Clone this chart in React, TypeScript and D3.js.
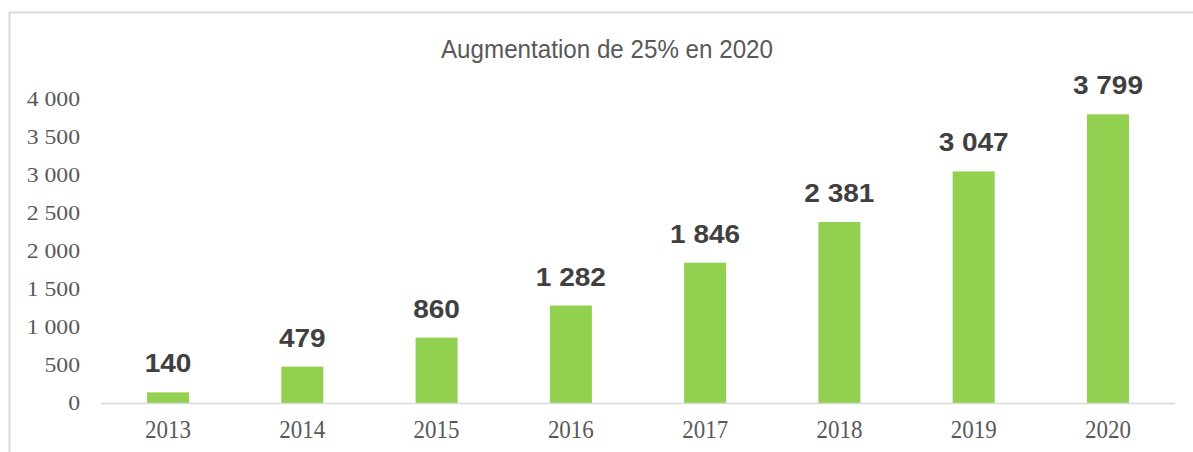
import * as React from 'react'
import * as d3 from 'd3'

const years = ['2013', '2014', '2015', '2016', '2017', '2018', '2019', '2020']
const counts = [140, 479, 860, 1282, 1846, 2381, 3047, 3799]
const yTicks = [0, 500, 1000, 1500, 2000, 2500, 3000, 3500, 4000]
const title = 'Augmentation de 25% en 2020'

const W = 1193
const H = 452

// French style thousands: "1 846"
const fmt = (v: number) => d3.format(',')(v).replace(/,/g, ' ')

export default function App() {
  const x = d3.scaleBand<string>().domain(years).range([101, 1175]).paddingInner(0.687).paddingOuter(0.343)
  const y = d3.scaleLinear().domain([0, 4000]).range([403, 99])
  const cx = (yr: string) => (x(yr) ?? 0) + x.bandwidth() / 2

  return (
    <div style={{ position: 'fixed', left: 0, top: 0 }}>
      <svg width={W} height={H} style={{ display: 'block', background: '#fff' }}>
        <rect x={9.5} y={12.5} width={W + 20} height={H + 20} fill="none" stroke="#d9d9d9" strokeWidth={2} />

        <text
          x={607}
          y={58}
          textAnchor="middle"
          fill="#595959"
          fontFamily="'Liberation Sans', Arial, sans-serif"
          fontSize={25}
          textLength={332}
          lengthAdjust="spacingAndGlyphs"
        >
          {title}
        </text>

        {yTicks.map((t) => (
          <text
            key={t}
            transform={`translate(80,${y(t)}) scale(1.13,1)`}
            dy="0.35em"
            textAnchor="end"
            fill="#595959"
            fontFamily="'Liberation Serif', 'Times New Roman', serif"
            fontSize={21}
          >
            {fmt(t)}
          </text>
        ))}

        {years.map((yr, i) => (
          <g key={yr}>
            <rect
              x={x(yr)}
              y={y(counts[i])}
              width={x.bandwidth()}
              height={y(0) - y(counts[i])}
              fill="#92d050"
            />
            <text
              transform={`translate(${cx(yr)},${y(counts[i]) - 20}) scale(1.12,1)`}
              textAnchor="middle"
              fill="#404040"
              fontFamily="'Liberation Sans', Arial, sans-serif"
              fontWeight="bold"
              fontSize={25}
            >
              {fmt(counts[i])}
            </text>
            <text
              transform={`translate(${cx(yr)},438) scale(1,1.12)`}
              textAnchor="middle"
              fill="#595959"
              fontFamily="'Liberation Serif', 'Times New Roman', serif"
              fontSize={23}
            >
              {yr}
            </text>
          </g>
        ))}

        <line x1={101} x2={1175} y1={403.5} y2={403.5} stroke="#d9d9d9" strokeWidth={1.5} />
      </svg>
    </div>
  )
}
